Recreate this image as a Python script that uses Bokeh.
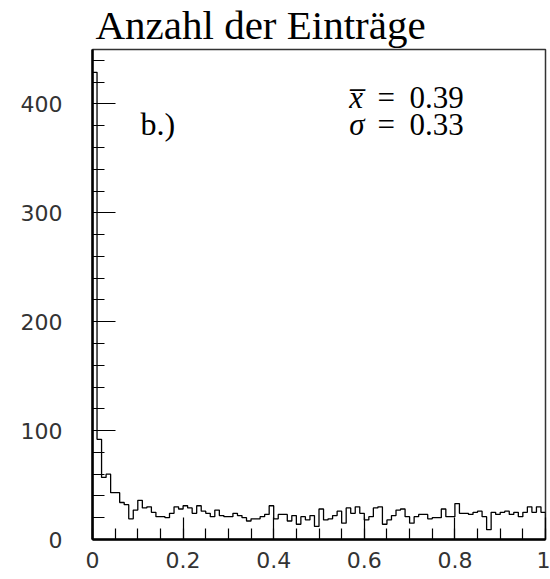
from bokeh.plotting import figure
from bokeh.models import Label, FixedTicker, Range1d
from bokeh.embed import file_html
from bokeh.resources import INLINE

# ---- data ----
bin_lo = 0.0
bin_hi = 1.0
n_bins = 100
counts = [429, 92, 57, 60, 43, 43, 34, 32, 19, 27,
          36, 29, 30, 25, 21, 21, 20, 24, 30, 28,
          31, 29, 24, 31, 26, 24, 21, 27, 22, 21,
          21, 24, 22, 20, 17, 19, 19, 21, 23, 31,
          19, 23, 23, 17, 22, 14, 21, 18, 22, 12,
          28, 18, 19, 22, 26, 15, 29, 24, 30, 24,
          18, 21, 29, 30, 14, 18, 22, 27, 28, 21,
          15, 21, 23, 23, 19, 20, 20, 28, 21, 21,
          33, 24, 24, 23, 25, 26, 21, 9, 25, 23,
          25, 26, 23, 25, 21, 25, 30, 25, 30, 25]
x_ticks = [0, 0.2, 0.4, 0.6, 0.8, 1.0]
x_tick_labels = ["0", "0.2", "0.4", "0.6", "0.8", "1"]
y_ticks = [0, 100, 200, 300, 400]
title_text = "Anzahl der Einträge"
panel_label = "b.)"
mean_value = "0.39"
sigma_value = "0.33"

# ---- step path from bins ----
width = (bin_hi - bin_lo) / n_bins
xs, ys = [bin_lo], [0]
for i, c in enumerate(counts):
    x0 = bin_lo + i * width
    xs += [x0, x0 + width]
    ys += [c, c]
xs.append(bin_hi)
ys.append(0)

p = figure(width=550, height=579, output_backend="svg", toolbar_location=None,
           x_range=Range1d(0, 1), y_range=Range1d(0, 450),
           min_border_left=92, min_border_right=5, min_border_top=49,
           min_border_bottom=40)
p.title.text = title_text
p.title.text_font = "Liberation Serif"
p.title.text_font_size = "41px"
p.title.text_font_style = "normal"
p.title.text_color = "black"
p.title.offset = 3
p.title.standoff = 0
p.title.vertical_align = "top"

p.line(xs, ys, line_color="black", line_width=1.3)

p.xgrid.visible = False
p.ygrid.visible = False
p.outline_line_color = "#333333"
p.outline_line_width = 1.5
p.background_fill_color = "white"
p.border_fill_color = "white"

for ax in (p.xaxis[0], p.yaxis[0]):
    ax.axis_line_width = 2.5
    ax.axis_line_color = "black"
    ax.major_tick_out = 0
    ax.minor_tick_out = 0
    ax.major_tick_line_color = "black"
    ax.minor_tick_line_color = "black"
    ax.major_tick_line_width = 1.2
    ax.minor_tick_line_width = 1.2
    ax.major_label_text_font = "DejaVu Sans"
    ax.major_label_text_font_size = "22px"
    ax.major_label_text_color = "#333333"

p.xaxis.ticker = FixedTicker(ticks=x_ticks,
                             minor_ticks=[i * 0.05 for i in range(21)])
p.xaxis.major_label_overrides = dict(zip(x_ticks, x_tick_labels))
p.xaxis.major_tick_in = 22
p.xaxis.minor_tick_in = 11
p.xaxis.major_label_standoff = 12

p.yaxis.ticker = FixedTicker(ticks=y_ticks,
                             minor_ticks=[i * 20 for i in range(23)])
p.yaxis.major_tick_in = 23
p.yaxis.minor_tick_in = 12
p.yaxis.major_label_standoff = 30

serif = "Liberation Serif"
fs = "31px"
ink = "black"
p.add_layout(Label(x=0.106, y=382, text=panel_label, text_font=serif,
                   text_font_size="32px", text_baseline="alphabetic",
                   text_color=ink))
p.add_layout(Label(x=0.567, y=406, text="x\u0305", text_font=serif,
                   text_font_style="italic", text_font_size=fs,
                   text_baseline="alphabetic", text_color=ink))
p.add_layout(Label(x=0.629, y=406, text="=", text_font=serif,
                   text_font_size=fs, text_baseline="alphabetic",
                   text_color=ink))
p.add_layout(Label(x=0.700, y=406, text=mean_value, text_font=serif,
                   text_font_size=fs, text_baseline="alphabetic",
                   text_color=ink))
p.add_layout(Label(x=0.567, y=381, text="\u03c3", text_font=serif,
                   text_font_style="italic", text_font_size=fs,
                   text_baseline="alphabetic", text_color=ink))
p.add_layout(Label(x=0.629, y=381, text="=", text_font=serif,
                   text_font_size=fs, text_baseline="alphabetic",
                   text_color=ink))
p.add_layout(Label(x=0.700, y=381, text=sigma_value, text_font=serif,
                   text_font_size=fs, text_baseline="alphabetic",
                   text_color=ink))

open("out.html", "w").write(file_html(p, INLINE))
